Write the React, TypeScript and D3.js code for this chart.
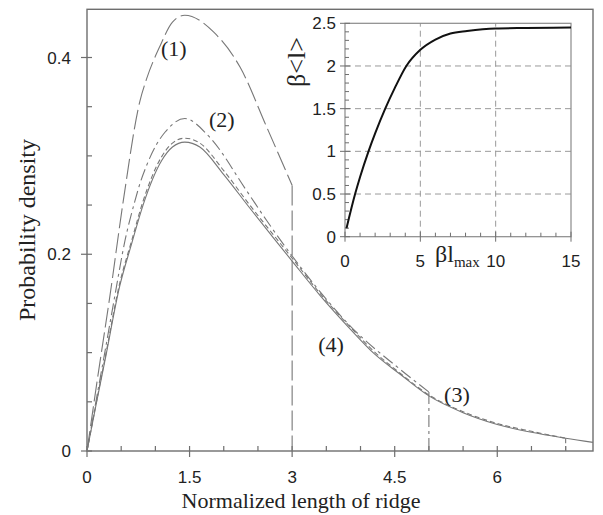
import React, { useRef, useEffect } from 'react';
import * as d3 from 'd3';

// main chart: probability density of ridge length
const mainXTicks = [0, 1.5, 3, 4.5, 6];
const mainXTickLabels = ['0', '1.5', '3', '4.5', '6'];
const mainYTicks = [0, 0.2, 0.4];
const mainYTickLabels = ['0', '0.2', '0.4'];

// (1) truncated at 3
const curve1X = [0, 0.15, 0.34, 0.53, 0.775, 0.87, 1.07, 1.25, 1.43, 1.85, 2.24, 2.63, 3.0];
const curve1Y = [0, 0.072, 0.16, 0.254, 0.356, 0.378, 0.412, 0.436, 0.443, 0.426, 0.39, 0.329, 0.27];

// (2) truncated at 5
const curve2X = [0, 0.13, 0.26, 0.4, 0.556, 0.7, 0.775, 0.87, 1.02, 1.14, 1.43, 1.78, 2.33, 2.63, 2.97, 3.36, 3.85, 4.58, 5.0];
const curve2Y = [0, 0.05, 0.1, 0.155, 0.214, 0.254, 0.272, 0.29, 0.312, 0.324, 0.338, 0.32, 0.265, 0.234, 0.201, 0.166, 0.127, 0.083, 0.06];

// (3) truncated at 7
const curve3X = [0, 0.13, 0.26, 0.48, 0.65, 0.82, 1.09, 1.25, 1.43, 1.65, 2.0, 2.38, 2.7, 3.0, 3.41, 3.85, 4.2, 4.58, 5.0, 5.5, 6.0, 6.5, 7.0];
const curve3Y = [0, 0.047, 0.093, 0.171, 0.213, 0.254, 0.299, 0.313, 0.318, 0.313, 0.285, 0.25, 0.222, 0.196, 0.16, 0.126, 0.101, 0.079, 0.057, 0.04, 0.028, 0.02, 0.013];

// (4) full distribution
const curve4X = [0, 0.13, 0.26, 0.48, 0.65, 0.82, 1.09, 1.25, 1.43, 1.65, 2.0, 2.38, 2.7, 3.0, 3.41, 3.85, 4.2, 4.58, 5.0, 5.5, 6.0, 6.5, 7.0, 7.4];
const curve4Y = [0, 0.046, 0.091, 0.168, 0.21, 0.25, 0.295, 0.309, 0.314, 0.309, 0.281, 0.247, 0.219, 0.193, 0.158, 0.124, 0.099, 0.078, 0.056, 0.039, 0.027, 0.019, 0.013, 0.0088];

const curveLabels = ['(1)', '(2)', '(4)', '(3)'];
const curveLabelX = [1.27, 1.97, 3.57, 5.41];
const curveLabelY = [0.4085, 0.336, 0.108, 0.057];

// inset: beta<l> against beta*l_max
const insetXTicks = [0, 5, 10, 15];
const insetYTicks = [0, 0.5, 1, 1.5, 2, 2.5];
const insetYTickLabels = ['0', '0.5', '1', '1.5', '2', '2.5'];
const insetX = [0.1, 0.67, 1.0, 1.56, 2.0, 2.67, 3.3, 4.07, 5.0, 6.0, 7.0, 8.1, 10, 12, 15];
const insetY = [0.1, 0.5, 0.7, 1.0, 1.21, 1.5, 1.74, 2.0, 2.19, 2.31, 2.38, 2.41, 2.44, 2.445, 2.45];

const App = () => {
  const svgRef = useRef(null);

  useEffect(() => {
    const svg = d3.select(svgRef.current);
    svg.selectAll('*').remove();

    const axisColor = '#6e6e6e';
    const curveColor = '#777777';
    const serif = '"Liberation Serif", "Times New Roman", serif';
    const sans = '"Liberation Sans", Arial, sans-serif';

    const x = d3.scaleLinear().domain([0, 7.4]).range([87, 593]);
    const y = d3.scaleLinear().domain([0, 0.449]).range([451, 9.3]);

    // frame
    svg.append('rect')
      .attr('x', x(0)).attr('y', y(0.449))
      .attr('width', x(7.4) - x(0)).attr('height', y(0) - y(0.449))
      .attr('fill', 'none').attr('stroke', axisColor).attr('stroke-width', 1.4);

    // x ticks
    const xMinor = d3.range(0.5, 7.4, 0.5).filter(v => !mainXTicks.includes(v));
    svg.selectAll('.x-minor').data(xMinor).enter().append('line')
      .attr('x1', d => x(d)).attr('x2', d => x(d))
      .attr('y1', y(0)).attr('y2', y(0) - 5)
      .attr('stroke', axisColor).attr('stroke-width', 1.2);
    svg.selectAll('.x-major').data(mainXTicks).enter().append('line')
      .attr('x1', d => x(d)).attr('x2', d => x(d))
      .attr('y1', y(0) - 5).attr('y2', y(0) + 6)
      .attr('stroke', axisColor).attr('stroke-width', 1.2);
    svg.selectAll('.x-label').data(mainXTicks).enter().append('text')
      .attr('x', d => x(d)).attr('y', 483)
      .attr('text-anchor', 'middle')
      .style('font-family', sans).style('font-size', '17px').attr('fill', '#222')
      .text((d, i) => mainXTickLabels[i]);

    // y ticks
    const yMinor = d3.range(0.05, 0.449, 0.05).filter(v => !mainYTicks.some(t => Math.abs(t - v) < 1e-6));
    svg.selectAll('.y-minor').data(yMinor).enter().append('line')
      .attr('x1', x(0)).attr('x2', x(0) + 5)
      .attr('y1', d => y(d)).attr('y2', d => y(d))
      .attr('stroke', axisColor).attr('stroke-width', 1.2);
    svg.selectAll('.y-major').data(mainYTicks).enter().append('line')
      .attr('x1', x(0) - 6).attr('x2', x(0) + 5)
      .attr('y1', d => y(d)).attr('y2', d => y(d))
      .attr('stroke', axisColor).attr('stroke-width', 1.2);
    svg.selectAll('.y-label').data(mainYTicks).enter().append('text')
      .attr('x', 71).attr('y', d => y(d) + 6)
      .attr('text-anchor', 'end')
      .style('font-family', sans).style('font-size', '17px').attr('fill', '#222')
      .text((d, i) => mainYTickLabels[i]);

    // axis titles
    svg.append('text')
      .attr('x', 301).attr('y', 508)
      .attr('text-anchor', 'middle')
      .style('font-family', serif).style('font-size', '22px').attr('fill', '#222')
      .text('Normalized length of ridge');
    svg.append('text')
      .attr('transform', 'translate(35, 230) rotate(-90)')
      .attr('text-anchor', 'middle')
      .style('font-family', serif).style('font-size', '24px').attr('fill', '#222')
      .text('Probability density');

    // curves
    const line = d3.line<[number, number]>()
      .x(d => x(d[0])).y(d => y(d[1]))
      .curve(d3.curveMonotoneX);

    const curves = [
      { xs: curve4X, ys: curve4Y, dash: null, width: 1.1 },
      { xs: curve3X, ys: curve3Y, dash: '5,3', width: 1.1 },
      { xs: curve2X, ys: curve2Y, dash: '12,4,3,4', width: 1.1 },
      { xs: curve1X, ys: curve1Y, dash: '20,5', width: 1.1 },
    ];

    curves.forEach(c => {
      const pts = c.xs.map((v, i) => [v, c.ys[i]] as [number, number]);
      svg.append('path')
        .attr('d', line(pts))
        .attr('fill', 'none')
        .attr('stroke', curveColor)
        .attr('stroke-width', c.width)
        .attr('stroke-dasharray', c.dash);
      if (c.dash) {
        const last = pts[pts.length - 1];
        svg.append('line')
          .attr('x1', x(last[0])).attr('x2', x(last[0]))
          .attr('y1', y(last[1])).attr('y2', y(0))
          .attr('stroke', curveColor)
          .attr('stroke-width', c.width)
          .attr('stroke-dasharray', c.dash);
      }
    });

    svg.selectAll('.curve-label').data(curveLabels).enter().append('text')
      .attr('x', (d, i) => x(curveLabelX[i]))
      .attr('y', (d, i) => y(curveLabelY[i]) + 7)
      .attr('text-anchor', 'middle')
      .style('font-family', serif).style('font-size', '22px').attr('fill', '#222')
      .text(d => d);

    // inset
    const ix = d3.scaleLinear().domain([0, 15]).range([345, 571]);
    const iy = d3.scaleLinear().domain([0, 2.5]).range([236.7, 23.3]);
    const inset = svg.append('g');

    inset.append('rect')
      .attr('x', ix(0)).attr('y', iy(2.5))
      .attr('width', ix(15) - ix(0)).attr('height', iy(0) - iy(2.5))
      .attr('fill', '#fff');

    inset.selectAll('.ig-h').data(insetYTicks.filter(v => v > 0 && v < 2.5)).enter().append('line')
      .attr('x1', ix(0)).attr('x2', ix(15))
      .attr('y1', d => iy(d)).attr('y2', d => iy(d))
      .attr('stroke', '#9a9a9a').attr('stroke-width', 1).attr('stroke-dasharray', '6,4');
    inset.selectAll('.ig-v').data(insetXTicks.filter(v => v > 0 && v < 15)).enter().append('line')
      .attr('x1', d => ix(d)).attr('x2', d => ix(d))
      .attr('y1', iy(0)).attr('y2', iy(2.5))
      .attr('stroke', '#9a9a9a').attr('stroke-width', 1).attr('stroke-dasharray', '6,4');

    inset.append('rect')
      .attr('x', ix(0)).attr('y', iy(2.5))
      .attr('width', ix(15) - ix(0)).attr('height', iy(0) - iy(2.5))
      .attr('fill', 'none').attr('stroke', '#8a8a8a').attr('stroke-width', 1.2);

    const ixMinor = d3.range(1, 15, 1).filter(v => v % 5 !== 0);
    inset.selectAll('.ix-minor').data(ixMinor).enter().append('line')
      .attr('x1', d => ix(d)).attr('x2', d => ix(d))
      .attr('y1', iy(0)).attr('y2', iy(0) - 4)
      .attr('stroke', axisColor).attr('stroke-width', 1);
    inset.selectAll('.ix-major').data(insetXTicks).enter().append('line')
      .attr('x1', d => ix(d)).attr('x2', d => ix(d))
      .attr('y1', iy(0) - 5).attr('y2', iy(0) + 5)
      .attr('stroke', axisColor).attr('stroke-width', 1);
    inset.selectAll('.ix-label').data(insetXTicks).enter().append('text')
      .attr('x', d => ix(d)).attr('y', 267)
      .attr('text-anchor', 'middle')
      .style('font-family', sans).style('font-size', '17px').attr('fill', '#222')
      .text(d => d);

    const iyMinor = d3.range(0.1, 2.5, 0.1).filter(v => Math.abs(v * 2 - Math.round(v * 2)) > 1e-6);
    inset.selectAll('.iy-minor').data(iyMinor).enter().append('line')
      .attr('x1', ix(0)).attr('x2', ix(0) + 4)
      .attr('y1', d => iy(d)).attr('y2', d => iy(d))
      .attr('stroke', axisColor).attr('stroke-width', 1);
    inset.selectAll('.iy-major').data(insetYTicks).enter().append('line')
      .attr('x1', ix(0) - 5).attr('x2', ix(0) + 5)
      .attr('y1', d => iy(d)).attr('y2', d => iy(d))
      .attr('stroke', axisColor).attr('stroke-width', 1);
    inset.selectAll('.iy-label').data(insetYTicks).enter().append('text')
      .attr('x', 336).attr('y', d => iy(d) + 6)
      .attr('text-anchor', 'end')
      .style('font-family', sans).style('font-size', '17px').attr('fill', '#222')
      .text((d, i) => insetYTickLabels[i]);

    const iline = d3.line<[number, number]>()
      .x(d => ix(d[0])).y(d => iy(d[1]))
      .curve(d3.curveMonotoneX);
    inset.append('path')
      .attr('d', iline(insetX.map((v, i) => [v, insetY[i]] as [number, number])))
      .attr('fill', 'none').attr('stroke', '#111').attr('stroke-width', 2);

    // inset axis titles
    const xt = inset.append('text')
      .attr('x', 435).attr('y', 262)
      .style('font-family', serif).style('font-size', '24px').attr('fill', '#222');
    xt.append('tspan').text('βl');
    xt.append('tspan').attr('dy', 5).style('font-size', '15px').text('max');

    inset.append('text')
      .attr('transform', 'translate(305, 62) rotate(-90)')
      .attr('text-anchor', 'middle')
      .style('font-family', serif).style('font-size', '26px').attr('fill', '#222')
      .text('β<l>');
  }, []);

  return (
    <svg ref={svgRef} width={603} height={515}
      style={{ position: 'absolute', left: 0, top: 0, background: '#fff' }} />
  );
};

export default App;
